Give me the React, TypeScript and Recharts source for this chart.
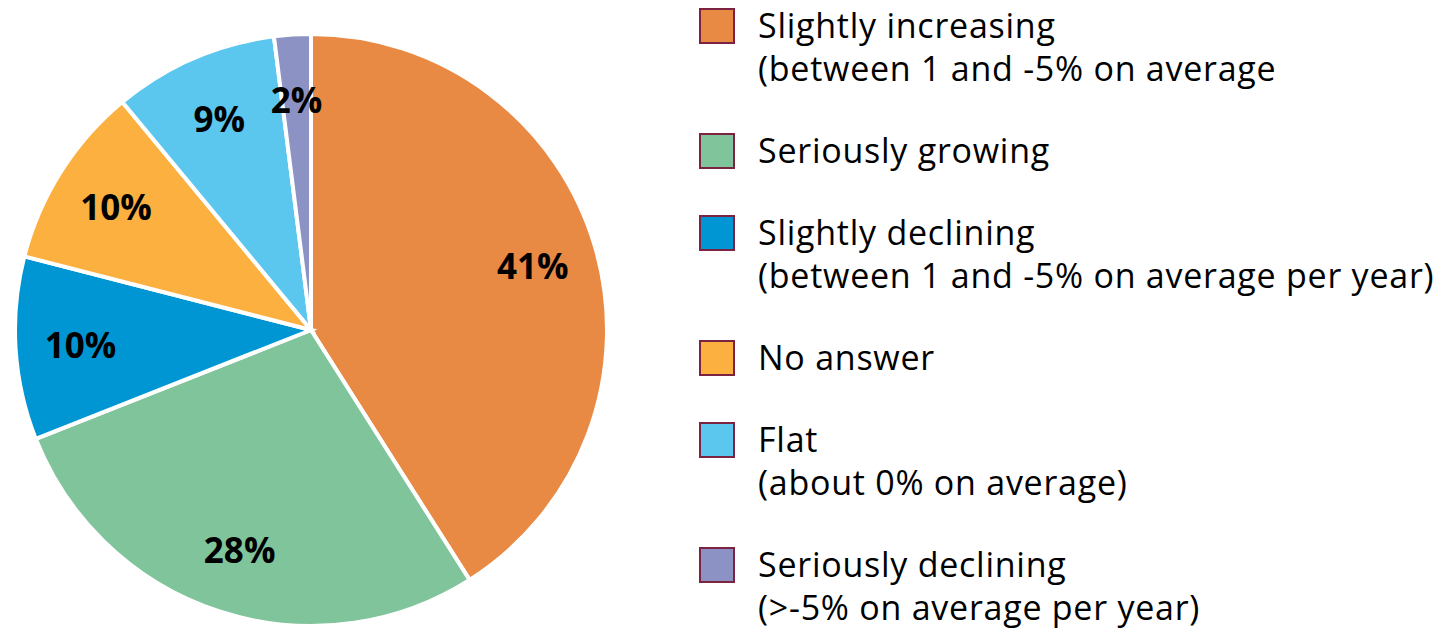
import React from "react";
import { PieChart, Pie, Cell, Legend } from "recharts";

const categories = [
  "Slightly increasing",
  "Seriously growing",
  "Slightly declining",
  "No answer",
  "Flat",
  "Seriously declining",
];
const subLabels = [
  "(between 1 and -5% on average",
  "",
  "(between 1 and -5% on average per year)",
  "",
  "(about 0% on average)",
  "(>-5% on average per year)",
];
const values = [41, 28, 10, 10, 9, 2];
const colors = ["#E88A44", "#80C49B", "#0096D4", "#FBB040", "#5BC6EE", "#8C93C4"];

const data = categories.map((name, i) => ({ name, value: values[i] }));

const FONT = "'Open Sans', 'Noto Sans', sans-serif";
const RAD = Math.PI / 180;

const renderLabel = (props: any) => {
  const { cx, cy, midAngle, outerRadius, value } = props;
  const r = outerRadius * 0.78;
  const x = cx + r * Math.cos(-midAngle * RAD);
  const y = cy + r * Math.sin(-midAngle * RAD);
  return (
    <text
      x={x}
      y={y}
      textAnchor="middle"
      dominantBaseline="central"
      fill="#000"
      fontFamily={FONT}
      fontWeight={700}
      fontSize={35}
    >
      {`${value}%`}
    </text>
  );
};

const LegendContent = () => (
  <div
    style={{
      fontFamily: FONT,
      fontSize: 34,
      letterSpacing: 0.75,
      color: "#000",
      display: "flex",
      flexDirection: "column",
      gap: 38,
    }}
  >
    {categories.map((c, i) => (
      <div key={c} style={{ display: "flex", alignItems: "flex-start" }}>
        <div
          style={{
            width: 32,
            height: 32,
            marginTop: 6,
            background: colors[i],
            border: "2px solid #7B2340",
            boxSizing: "content-box",
            flexShrink: 0,
          }}
        />
        <div style={{ marginLeft: 23, lineHeight: "44px", whiteSpace: "nowrap", position: "relative", top: 1 }}>
          <div>{c}</div>
          {subLabels[i] ? <div style={{ marginTop: -1 }}>{subLabels[i]}</div> : null}
        </div>
      </div>
    ))}
  </div>
);

export default function App() {
  return (
    <div style={{ position: "absolute", left: 0, top: 0, width: 1445, height: 633, background: "#fff" }}>
      <PieChart width={1445} height={633} margin={{ top: 0, right: 0, bottom: 0, left: 0 }}>
        <Pie
          data={data}
          dataKey="value"
          nameKey="name"
          cx={311}
          cy={330}
          outerRadius={296}
          startAngle={90}
          endAngle={-270}
          stroke="#fff"
          strokeWidth={4}
          label={renderLabel}
          labelLine={false}
          isAnimationActive={false}
        >
          {data.map((d, i) => (
            <Cell key={d.name} fill={colors[i]} />
          ))}
        </Pie>
        <Legend
          content={<LegendContent />}
          wrapperStyle={{ position: "absolute", left: 699, top: 2, width: 746, bottom: "auto" }}
        />
      </PieChart>
    </div>
  );
}
